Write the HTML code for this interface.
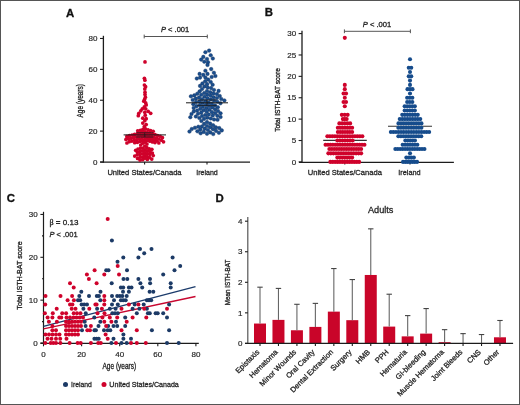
<!DOCTYPE html>
<html><head><meta charset="utf-8"><style>
html,body{margin:0;padding:0;background:#fff;}
svg{display:block;font-family:"Liberation Sans", sans-serif;will-change:transform;}
</style></head><body>
<svg width="520" height="405" viewBox="0 0 520 405">
<rect width="520" height="405" fill="#fff"/>
<text x="66.0" y="16.6" font-size="11.4" text-anchor="start" font-weight="bold" font-style="normal" fill="#111" stroke="#111" stroke-width="0.3">A</text>
<line x1="103.4" y1="35.8" x2="103.4" y2="162.7" stroke="#1c1c1c" stroke-width="1.3"/>
<line x1="100.0" y1="162.0" x2="103.4" y2="162.0" stroke="#1c1c1c" stroke-width="1.1"/>
<text x="97.4" y="164.7" font-size="8.0" text-anchor="end" font-weight="normal" font-style="normal" fill="#262626" stroke="#262626" stroke-width="0.18">0</text>
<line x1="100.0" y1="131.12" x2="103.4" y2="131.12" stroke="#1c1c1c" stroke-width="1.1"/>
<text x="97.4" y="133.82" font-size="8.0" text-anchor="end" font-weight="normal" font-style="normal" fill="#262626" stroke="#262626" stroke-width="0.18">20</text>
<line x1="100.0" y1="100.24" x2="103.4" y2="100.24" stroke="#1c1c1c" stroke-width="1.1"/>
<text x="97.4" y="102.94" font-size="8.0" text-anchor="end" font-weight="normal" font-style="normal" fill="#262626" stroke="#262626" stroke-width="0.18">40</text>
<line x1="100.0" y1="69.36" x2="103.4" y2="69.36" stroke="#1c1c1c" stroke-width="1.1"/>
<text x="97.4" y="72.06" font-size="8.0" text-anchor="end" font-weight="normal" font-style="normal" fill="#262626" stroke="#262626" stroke-width="0.18">60</text>
<line x1="100.0" y1="38.47999999999999" x2="103.4" y2="38.47999999999999" stroke="#1c1c1c" stroke-width="1.1"/>
<text x="97.4" y="41.17999999999999" font-size="8.0" text-anchor="end" font-weight="normal" font-style="normal" fill="#262626" stroke="#262626" stroke-width="0.18">80</text>
<line x1="100.2" y1="162.1" x2="250.0" y2="162.1" stroke="#1c1c1c" stroke-width="1.3"/>
<line x1="144.6" y1="162" x2="144.6" y2="164.6" stroke="#1c1c1c" stroke-width="1.1"/>
<line x1="207.0" y1="162" x2="207.0" y2="164.6" stroke="#1c1c1c" stroke-width="1.1"/>
<text x="144.5" y="175.1" font-size="7.9" text-anchor="middle" font-weight="normal" font-style="normal" fill="#262626" stroke="#262626" stroke-width="0.3" textLength="74.2" lengthAdjust="spacingAndGlyphs">United States/Canada</text>
<text x="207.0" y="175.1" font-size="7.9" text-anchor="middle" font-weight="normal" font-style="normal" fill="#262626" stroke="#262626" stroke-width="0.3" textLength="21.6" lengthAdjust="spacingAndGlyphs">Ireland</text>
<text x="83.0" y="100.8" font-size="9.8" text-anchor="middle" font-weight="normal" font-style="normal" fill="#262626" stroke="#262626" stroke-width="0.35" textLength="33.3" lengthAdjust="spacingAndGlyphs" transform="rotate(-90 83.0 100.8)">Age (years)</text>
<line x1="144.2" y1="36.5" x2="207.3" y2="36.5" stroke="#555" stroke-width="1.0"/>
<line x1="144.2" y1="34.6" x2="144.2" y2="38.4" stroke="#555" stroke-width="1.0"/>
<line x1="207.3" y1="34.6" x2="207.3" y2="38.4" stroke="#555" stroke-width="1.0"/>
<text x="161.0" y="31.7" font-size="7.4" fill="#262626" stroke="#262626" stroke-width="0.3" textLength="28.2" lengthAdjust="spacingAndGlyphs"><tspan font-style="italic">P</tspan> &lt; .001</text>
<text x="264.8" y="16.3" font-size="11.4" text-anchor="start" font-weight="bold" font-style="normal" fill="#111" stroke="#111" stroke-width="0.3">B</text>
<line x1="302.0" y1="30.8" x2="302.0" y2="162.9" stroke="#1c1c1c" stroke-width="1.3"/>
<line x1="298.6" y1="161.9" x2="302.0" y2="161.9" stroke="#1c1c1c" stroke-width="1.1"/>
<text x="296.2" y="164.6" font-size="8.0" text-anchor="end" font-weight="normal" font-style="normal" fill="#262626" stroke="#262626" stroke-width="0.18">0</text>
<line x1="298.6" y1="140.51500000000001" x2="302.0" y2="140.51500000000001" stroke="#1c1c1c" stroke-width="1.1"/>
<text x="296.2" y="143.215" font-size="8.0" text-anchor="end" font-weight="normal" font-style="normal" fill="#262626" stroke="#262626" stroke-width="0.18">5</text>
<line x1="298.6" y1="119.13" x2="302.0" y2="119.13" stroke="#1c1c1c" stroke-width="1.1"/>
<text x="296.2" y="121.83" font-size="8.0" text-anchor="end" font-weight="normal" font-style="normal" fill="#262626" stroke="#262626" stroke-width="0.18">10</text>
<line x1="298.6" y1="97.745" x2="302.0" y2="97.745" stroke="#1c1c1c" stroke-width="1.1"/>
<text x="296.2" y="100.44500000000001" font-size="8.0" text-anchor="end" font-weight="normal" font-style="normal" fill="#262626" stroke="#262626" stroke-width="0.18">15</text>
<line x1="298.6" y1="76.36" x2="302.0" y2="76.36" stroke="#1c1c1c" stroke-width="1.1"/>
<text x="296.2" y="79.06" font-size="8.0" text-anchor="end" font-weight="normal" font-style="normal" fill="#262626" stroke="#262626" stroke-width="0.18">20</text>
<line x1="298.6" y1="54.97500000000001" x2="302.0" y2="54.97500000000001" stroke="#1c1c1c" stroke-width="1.1"/>
<text x="296.2" y="57.67500000000001" font-size="8.0" text-anchor="end" font-weight="normal" font-style="normal" fill="#262626" stroke="#262626" stroke-width="0.18">25</text>
<line x1="298.6" y1="33.59" x2="302.0" y2="33.59" stroke="#1c1c1c" stroke-width="1.1"/>
<text x="296.2" y="36.290000000000006" font-size="8.0" text-anchor="end" font-weight="normal" font-style="normal" fill="#262626" stroke="#262626" stroke-width="0.18">30</text>
<line x1="299.0" y1="162.3" x2="453.9" y2="162.3" stroke="#1c1c1c" stroke-width="1.3"/>
<line x1="344.8" y1="162" x2="344.8" y2="164.6" stroke="#1c1c1c" stroke-width="1.1"/>
<line x1="410.0" y1="162" x2="410.0" y2="164.6" stroke="#1c1c1c" stroke-width="1.1"/>
<text x="344.8" y="175.1" font-size="7.9" text-anchor="middle" font-weight="normal" font-style="normal" fill="#262626" stroke="#262626" stroke-width="0.3" textLength="74.2" lengthAdjust="spacingAndGlyphs">United States/Canada</text>
<text x="409.5" y="175.1" font-size="7.9" text-anchor="middle" font-weight="normal" font-style="normal" fill="#262626" stroke="#262626" stroke-width="0.3" textLength="22.4" lengthAdjust="spacingAndGlyphs">Ireland</text>
<text x="280.2" y="99.9" font-size="7.7" text-anchor="middle" font-weight="normal" font-style="normal" fill="#262626" stroke="#262626" stroke-width="0.35" textLength="63.7" lengthAdjust="spacingAndGlyphs" transform="rotate(-90 280.2 99.9)">Total ISTH-BAT score</text>
<line x1="344.4" y1="31.3" x2="410.4" y2="31.3" stroke="#555" stroke-width="1.0"/>
<line x1="344.4" y1="29.4" x2="344.4" y2="33.2" stroke="#555" stroke-width="1.0"/>
<line x1="410.4" y1="29.4" x2="410.4" y2="33.2" stroke="#555" stroke-width="1.0"/>
<text x="362.8" y="26.5" font-size="7.4" fill="#262626" stroke="#262626" stroke-width="0.3" textLength="28.5" lengthAdjust="spacingAndGlyphs"><tspan font-style="italic">P</tspan> &lt; .001</text>
<line x1="323.2" y1="140.4" x2="366.8" y2="140.4" stroke="#333" stroke-width="1.1"/>
<line x1="388.0" y1="126.3" x2="432.0" y2="126.3" stroke="#333" stroke-width="1.1"/>
<text x="6.8" y="201.7" font-size="11.4" text-anchor="start" font-weight="bold" font-style="normal" fill="#111" stroke="#111" stroke-width="0.3">C</text>
<line x1="43.5" y1="211.8" x2="43.5" y2="344.0" stroke="#1c1c1c" stroke-width="1.2"/>
<line x1="40.4" y1="343.0" x2="43.5" y2="343.0" stroke="#1c1c1c" stroke-width="1.1"/>
<text x="37.6" y="345.9" font-size="8.0" text-anchor="end" font-weight="normal" font-style="normal" fill="#262626" stroke="#262626" stroke-width="0.18">0</text>
<line x1="42.0" y1="321.575" x2="43.5" y2="321.575" stroke="#1c1c1c" stroke-width="1.1"/>
<line x1="40.4" y1="300.15" x2="43.5" y2="300.15" stroke="#1c1c1c" stroke-width="1.1"/>
<text x="37.6" y="303.04999999999995" font-size="8.0" text-anchor="end" font-weight="normal" font-style="normal" fill="#262626" stroke="#262626" stroke-width="0.18">10</text>
<line x1="42.0" y1="278.725" x2="43.5" y2="278.725" stroke="#1c1c1c" stroke-width="1.1"/>
<line x1="40.4" y1="257.3" x2="43.5" y2="257.3" stroke="#1c1c1c" stroke-width="1.1"/>
<text x="37.6" y="260.2" font-size="8.0" text-anchor="end" font-weight="normal" font-style="normal" fill="#262626" stroke="#262626" stroke-width="0.18">20</text>
<line x1="42.0" y1="235.875" x2="43.5" y2="235.875" stroke="#1c1c1c" stroke-width="1.1"/>
<line x1="40.4" y1="214.45" x2="43.5" y2="214.45" stroke="#1c1c1c" stroke-width="1.1"/>
<text x="37.6" y="217.35" font-size="8.0" text-anchor="end" font-weight="normal" font-style="normal" fill="#262626" stroke="#262626" stroke-width="0.18">30</text>
<line x1="40.4" y1="343.4" x2="198.8" y2="343.4" stroke="#1c1c1c" stroke-width="1.3"/>
<line x1="43.5" y1="343.4" x2="43.5" y2="346.3" stroke="#1c1c1c" stroke-width="1.1"/>
<text x="43.5" y="357.0" font-size="8.0" text-anchor="middle" font-weight="normal" font-style="normal" fill="#262626" stroke="#262626" stroke-width="0.18">0</text>
<line x1="81.6" y1="343.4" x2="81.6" y2="346.3" stroke="#1c1c1c" stroke-width="1.1"/>
<text x="81.6" y="357.0" font-size="8.0" text-anchor="middle" font-weight="normal" font-style="normal" fill="#262626" stroke="#262626" stroke-width="0.18">20</text>
<line x1="119.7" y1="343.4" x2="119.7" y2="346.3" stroke="#1c1c1c" stroke-width="1.1"/>
<text x="119.7" y="357.0" font-size="8.0" text-anchor="middle" font-weight="normal" font-style="normal" fill="#262626" stroke="#262626" stroke-width="0.18">40</text>
<line x1="157.8" y1="343.4" x2="157.8" y2="346.3" stroke="#1c1c1c" stroke-width="1.1"/>
<text x="157.8" y="357.0" font-size="8.0" text-anchor="middle" font-weight="normal" font-style="normal" fill="#262626" stroke="#262626" stroke-width="0.18">60</text>
<line x1="195.9" y1="343.4" x2="195.9" y2="346.3" stroke="#1c1c1c" stroke-width="1.1"/>
<text x="195.9" y="357.0" font-size="8.0" text-anchor="middle" font-weight="normal" font-style="normal" fill="#262626" stroke="#262626" stroke-width="0.18">80</text>
<text x="119.3" y="369.0" font-size="8.4" text-anchor="middle" font-weight="normal" font-style="normal" fill="#262626" stroke="#262626" stroke-width="0.35" textLength="33.5" lengthAdjust="spacingAndGlyphs">Age (years)</text>
<text x="21.6" y="275.5" font-size="7.9" text-anchor="middle" font-weight="normal" font-style="normal" fill="#262626" stroke="#262626" stroke-width="0.35" textLength="68.3" lengthAdjust="spacingAndGlyphs" transform="rotate(-90 21.6 275.5)">Total ISTH-BAT score</text>
<text x="49.4" y="225.0" font-size="7.9" fill="#262626" stroke="#262626" stroke-width="0.3" textLength="29" lengthAdjust="spacingAndGlyphs"><tspan font-family="Liberation Serif">β</tspan> = 0.13</text>
<text x="49.4" y="236.9" font-size="7.9" fill="#262626" stroke="#262626" stroke-width="0.3" textLength="28.2" lengthAdjust="spacingAndGlyphs"><tspan font-style="italic">P</tspan> &lt; .001</text>
<line x1="43.5" y1="326.4" x2="195.5" y2="286.7" stroke="#1B3B6B" stroke-width="1.3"/>
<line x1="43.5" y1="328.8" x2="195.5" y2="296.5" stroke="#C8062F" stroke-width="1.3"/>
<circle cx="111.90" cy="240.38" r="2.0" fill="#1C3A66"/>
<circle cx="140.00" cy="248.94" r="2.0" fill="#1C3A66"/>
<circle cx="151.50" cy="248.94" r="2.0" fill="#1C3A66"/>
<circle cx="144.20" cy="253.22" r="2.0" fill="#1C3A66"/>
<circle cx="123.30" cy="257.50" r="2.0" fill="#1C3A66"/>
<circle cx="138.40" cy="257.50" r="2.0" fill="#1C3A66"/>
<circle cx="172.60" cy="257.50" r="2.0" fill="#1C3A66"/>
<circle cx="117.50" cy="261.78" r="2.0" fill="#1C3A66"/>
<circle cx="180.20" cy="266.06" r="2.0" fill="#1C3A66"/>
<circle cx="106.20" cy="270.34" r="2.0" fill="#1C3A66"/>
<circle cx="108.50" cy="270.34" r="2.0" fill="#1C3A66"/>
<circle cx="127.00" cy="270.34" r="2.0" fill="#1C3A66"/>
<circle cx="174.50" cy="270.34" r="2.0" fill="#1C3A66"/>
<circle cx="163.20" cy="274.62" r="2.0" fill="#1C3A66"/>
<circle cx="123.50" cy="278.90" r="2.0" fill="#1C3A66"/>
<circle cx="127.30" cy="278.90" r="2.0" fill="#1C3A66"/>
<circle cx="138.40" cy="278.90" r="2.0" fill="#1C3A66"/>
<circle cx="150.00" cy="278.90" r="2.0" fill="#1C3A66"/>
<circle cx="111.70" cy="283.18" r="2.0" fill="#1C3A66"/>
<circle cx="140.40" cy="283.18" r="2.0" fill="#1C3A66"/>
<circle cx="150.10" cy="283.18" r="2.0" fill="#1C3A66"/>
<circle cx="170.70" cy="283.18" r="2.0" fill="#1C3A66"/>
<circle cx="120.90" cy="287.46" r="2.0" fill="#1C3A66"/>
<circle cx="123.20" cy="287.46" r="2.0" fill="#1C3A66"/>
<circle cx="128.90" cy="287.46" r="2.0" fill="#1C3A66"/>
<circle cx="131.50" cy="287.46" r="2.0" fill="#1C3A66"/>
<circle cx="142.20" cy="287.46" r="2.0" fill="#1C3A66"/>
<circle cx="170.70" cy="287.46" r="2.0" fill="#1C3A66"/>
<circle cx="81.30" cy="291.74" r="2.0" fill="#1C3A66"/>
<circle cx="100.50" cy="291.74" r="2.0" fill="#1C3A66"/>
<circle cx="123.00" cy="291.74" r="2.0" fill="#1C3A66"/>
<circle cx="128.90" cy="291.74" r="2.0" fill="#1C3A66"/>
<circle cx="149.60" cy="291.74" r="2.0" fill="#1C3A66"/>
<circle cx="153.30" cy="291.74" r="2.0" fill="#1C3A66"/>
<circle cx="79.30" cy="296.02" r="2.0" fill="#1C3A66"/>
<circle cx="89.00" cy="296.02" r="2.0" fill="#1C3A66"/>
<circle cx="96.80" cy="296.02" r="2.0" fill="#1C3A66"/>
<circle cx="98.90" cy="296.02" r="2.0" fill="#1C3A66"/>
<circle cx="112.00" cy="296.02" r="2.0" fill="#1C3A66"/>
<circle cx="117.20" cy="296.02" r="2.0" fill="#1C3A66"/>
<circle cx="119.90" cy="296.02" r="2.0" fill="#1C3A66"/>
<circle cx="122.40" cy="296.02" r="2.0" fill="#1C3A66"/>
<circle cx="126.70" cy="296.02" r="2.0" fill="#1C3A66"/>
<circle cx="78.00" cy="300.30" r="2.0" fill="#1C3A66"/>
<circle cx="80.20" cy="300.30" r="2.0" fill="#1C3A66"/>
<circle cx="100.30" cy="300.30" r="2.0" fill="#1C3A66"/>
<circle cx="114.00" cy="300.30" r="2.0" fill="#1C3A66"/>
<circle cx="120.90" cy="300.30" r="2.0" fill="#1C3A66"/>
<circle cx="123.20" cy="300.30" r="2.0" fill="#1C3A66"/>
<circle cx="125.70" cy="300.30" r="2.0" fill="#1C3A66"/>
<circle cx="146.90" cy="300.30" r="2.0" fill="#1C3A66"/>
<circle cx="149.00" cy="300.30" r="2.0" fill="#1C3A66"/>
<circle cx="151.20" cy="300.30" r="2.0" fill="#1C3A66"/>
<circle cx="81.60" cy="304.58" r="2.0" fill="#1C3A66"/>
<circle cx="84.20" cy="304.58" r="2.0" fill="#1C3A66"/>
<circle cx="87.00" cy="304.58" r="2.0" fill="#1C3A66"/>
<circle cx="112.00" cy="304.58" r="2.0" fill="#1C3A66"/>
<circle cx="117.80" cy="304.58" r="2.0" fill="#1C3A66"/>
<circle cx="134.70" cy="304.58" r="2.0" fill="#1C3A66"/>
<circle cx="143.70" cy="304.58" r="2.0" fill="#1C3A66"/>
<circle cx="169.10" cy="304.58" r="2.0" fill="#1C3A66"/>
<circle cx="83.40" cy="308.86" r="2.0" fill="#1C3A66"/>
<circle cx="97.10" cy="308.86" r="2.0" fill="#1C3A66"/>
<circle cx="109.80" cy="308.86" r="2.0" fill="#1C3A66"/>
<circle cx="115.60" cy="308.86" r="2.0" fill="#1C3A66"/>
<circle cx="132.60" cy="308.86" r="2.0" fill="#1C3A66"/>
<circle cx="139.40" cy="308.86" r="2.0" fill="#1C3A66"/>
<circle cx="146.90" cy="308.86" r="2.0" fill="#1C3A66"/>
<circle cx="85.70" cy="313.14" r="2.0" fill="#1C3A66"/>
<circle cx="112.30" cy="313.14" r="2.0" fill="#1C3A66"/>
<circle cx="115.00" cy="313.14" r="2.0" fill="#1C3A66"/>
<circle cx="117.80" cy="313.14" r="2.0" fill="#1C3A66"/>
<circle cx="136.80" cy="313.14" r="2.0" fill="#1C3A66"/>
<circle cx="147.90" cy="313.14" r="2.0" fill="#1C3A66"/>
<circle cx="149.80" cy="313.14" r="2.0" fill="#1C3A66"/>
<circle cx="155.60" cy="313.14" r="2.0" fill="#1C3A66"/>
<circle cx="157.70" cy="313.14" r="2.0" fill="#1C3A66"/>
<circle cx="163.20" cy="313.14" r="2.0" fill="#1C3A66"/>
<circle cx="94.30" cy="317.42" r="2.0" fill="#1C3A66"/>
<circle cx="125.20" cy="317.42" r="2.0" fill="#1C3A66"/>
<circle cx="167.00" cy="317.42" r="2.0" fill="#1C3A66"/>
<circle cx="84.70" cy="321.70" r="2.0" fill="#1C3A66"/>
<circle cx="100.30" cy="321.70" r="2.0" fill="#1C3A66"/>
<circle cx="116.00" cy="321.70" r="2.0" fill="#1C3A66"/>
<circle cx="85.60" cy="325.98" r="2.0" fill="#1C3A66"/>
<circle cx="98.50" cy="325.98" r="2.0" fill="#1C3A66"/>
<circle cx="108.20" cy="325.98" r="2.0" fill="#1C3A66"/>
<circle cx="113.50" cy="325.98" r="2.0" fill="#1C3A66"/>
<circle cx="117.20" cy="325.98" r="2.0" fill="#1C3A66"/>
<circle cx="125.20" cy="325.98" r="2.0" fill="#1C3A66"/>
<circle cx="82.00" cy="330.26" r="2.0" fill="#1C3A66"/>
<circle cx="94.40" cy="330.26" r="2.0" fill="#1C3A66"/>
<circle cx="95.90" cy="330.26" r="2.0" fill="#1C3A66"/>
<circle cx="104.00" cy="330.26" r="2.0" fill="#1C3A66"/>
<circle cx="107.70" cy="330.26" r="2.0" fill="#1C3A66"/>
<circle cx="110.30" cy="330.26" r="2.0" fill="#1C3A66"/>
<circle cx="151.90" cy="330.26" r="2.0" fill="#1C3A66"/>
<circle cx="169.10" cy="330.26" r="2.0" fill="#1C3A66"/>
<circle cx="123.40" cy="334.54" r="2.0" fill="#1C3A66"/>
<circle cx="94.40" cy="338.82" r="2.0" fill="#1C3A66"/>
<circle cx="96.60" cy="338.82" r="2.0" fill="#1C3A66"/>
<circle cx="98.70" cy="338.82" r="2.0" fill="#1C3A66"/>
<circle cx="113.50" cy="338.82" r="2.0" fill="#1C3A66"/>
<circle cx="123.40" cy="338.82" r="2.0" fill="#1C3A66"/>
<circle cx="131.00" cy="338.82" r="2.0" fill="#1C3A66"/>
<circle cx="111.40" cy="343.10" r="2.0" fill="#1C3A66"/>
<circle cx="121.50" cy="343.10" r="2.0" fill="#1C3A66"/>
<circle cx="126.70" cy="343.10" r="2.0" fill="#1C3A66"/>
<circle cx="167.00" cy="343.10" r="2.0" fill="#1C3A66"/>
<circle cx="178.70" cy="343.10" r="2.0" fill="#1C3A66"/>
<circle cx="107.70" cy="218.98" r="2.0" fill="#CF022B"/>
<circle cx="117.70" cy="266.06" r="2.0" fill="#CF022B"/>
<circle cx="94.60" cy="270.34" r="2.0" fill="#CF022B"/>
<circle cx="86.90" cy="274.62" r="2.0" fill="#CF022B"/>
<circle cx="104.30" cy="274.62" r="2.0" fill="#CF022B"/>
<circle cx="119.00" cy="274.62" r="2.0" fill="#CF022B"/>
<circle cx="88.90" cy="278.90" r="2.0" fill="#CF022B"/>
<circle cx="70.00" cy="283.18" r="2.0" fill="#CF022B"/>
<circle cx="96.60" cy="283.18" r="2.0" fill="#CF022B"/>
<circle cx="73.70" cy="287.46" r="2.0" fill="#CF022B"/>
<circle cx="45.50" cy="296.02" r="2.0" fill="#CF022B"/>
<circle cx="60.50" cy="296.02" r="2.0" fill="#CF022B"/>
<circle cx="72.10" cy="296.02" r="2.0" fill="#CF022B"/>
<circle cx="104.30" cy="296.02" r="2.0" fill="#CF022B"/>
<circle cx="67.60" cy="300.30" r="2.0" fill="#CF022B"/>
<circle cx="73.90" cy="300.30" r="2.0" fill="#CF022B"/>
<circle cx="104.30" cy="300.30" r="2.0" fill="#CF022B"/>
<circle cx="45.20" cy="304.58" r="2.0" fill="#CF022B"/>
<circle cx="70.00" cy="304.58" r="2.0" fill="#CF022B"/>
<circle cx="72.40" cy="304.58" r="2.0" fill="#CF022B"/>
<circle cx="95.40" cy="304.58" r="2.0" fill="#CF022B"/>
<circle cx="96.60" cy="304.58" r="2.0" fill="#CF022B"/>
<circle cx="104.30" cy="304.58" r="2.0" fill="#CF022B"/>
<circle cx="128.90" cy="304.58" r="2.0" fill="#CF022B"/>
<circle cx="138.40" cy="304.58" r="2.0" fill="#CF022B"/>
<circle cx="56.70" cy="308.86" r="2.0" fill="#CF022B"/>
<circle cx="71.70" cy="308.86" r="2.0" fill="#CF022B"/>
<circle cx="75.50" cy="308.86" r="2.0" fill="#CF022B"/>
<circle cx="89.30" cy="308.86" r="2.0" fill="#CF022B"/>
<circle cx="101.90" cy="308.86" r="2.0" fill="#CF022B"/>
<circle cx="121.50" cy="308.86" r="2.0" fill="#CF022B"/>
<circle cx="144.20" cy="308.86" r="2.0" fill="#CF022B"/>
<circle cx="167.00" cy="308.86" r="2.0" fill="#CF022B"/>
<circle cx="44.90" cy="313.14" r="2.0" fill="#CF022B"/>
<circle cx="52.80" cy="313.14" r="2.0" fill="#CF022B"/>
<circle cx="62.20" cy="313.14" r="2.0" fill="#CF022B"/>
<circle cx="66.10" cy="313.14" r="2.0" fill="#CF022B"/>
<circle cx="73.70" cy="313.14" r="2.0" fill="#CF022B"/>
<circle cx="77.00" cy="313.14" r="2.0" fill="#CF022B"/>
<circle cx="80.50" cy="313.14" r="2.0" fill="#CF022B"/>
<circle cx="97.50" cy="313.14" r="2.0" fill="#CF022B"/>
<circle cx="104.50" cy="313.14" r="2.0" fill="#CF022B"/>
<circle cx="47.60" cy="317.42" r="2.0" fill="#CF022B"/>
<circle cx="52.40" cy="317.42" r="2.0" fill="#CF022B"/>
<circle cx="59.30" cy="317.42" r="2.0" fill="#CF022B"/>
<circle cx="61.30" cy="317.42" r="2.0" fill="#CF022B"/>
<circle cx="66.50" cy="317.42" r="2.0" fill="#CF022B"/>
<circle cx="70.00" cy="317.42" r="2.0" fill="#CF022B"/>
<circle cx="73.50" cy="317.42" r="2.0" fill="#CF022B"/>
<circle cx="76.50" cy="317.42" r="2.0" fill="#CF022B"/>
<circle cx="79.70" cy="317.42" r="2.0" fill="#CF022B"/>
<circle cx="83.00" cy="317.42" r="2.0" fill="#CF022B"/>
<circle cx="102.40" cy="317.42" r="2.0" fill="#CF022B"/>
<circle cx="109.80" cy="317.42" r="2.0" fill="#CF022B"/>
<circle cx="117.20" cy="317.42" r="2.0" fill="#CF022B"/>
<circle cx="132.60" cy="317.42" r="2.0" fill="#CF022B"/>
<circle cx="146.30" cy="317.42" r="2.0" fill="#CF022B"/>
<circle cx="48.90" cy="321.70" r="2.0" fill="#CF022B"/>
<circle cx="56.90" cy="321.70" r="2.0" fill="#CF022B"/>
<circle cx="66.00" cy="321.70" r="2.0" fill="#CF022B"/>
<circle cx="69.00" cy="321.70" r="2.0" fill="#CF022B"/>
<circle cx="72.00" cy="321.70" r="2.0" fill="#CF022B"/>
<circle cx="75.00" cy="321.70" r="2.0" fill="#CF022B"/>
<circle cx="78.00" cy="321.70" r="2.0" fill="#CF022B"/>
<circle cx="81.00" cy="321.70" r="2.0" fill="#CF022B"/>
<circle cx="104.30" cy="321.70" r="2.0" fill="#CF022B"/>
<circle cx="111.40" cy="321.70" r="2.0" fill="#CF022B"/>
<circle cx="126.70" cy="321.70" r="2.0" fill="#CF022B"/>
<circle cx="52.40" cy="325.98" r="2.0" fill="#CF022B"/>
<circle cx="66.00" cy="325.98" r="2.0" fill="#CF022B"/>
<circle cx="69.00" cy="325.98" r="2.0" fill="#CF022B"/>
<circle cx="72.00" cy="325.98" r="2.0" fill="#CF022B"/>
<circle cx="75.00" cy="325.98" r="2.0" fill="#CF022B"/>
<circle cx="78.00" cy="325.98" r="2.0" fill="#CF022B"/>
<circle cx="81.00" cy="325.98" r="2.0" fill="#CF022B"/>
<circle cx="90.90" cy="325.98" r="2.0" fill="#CF022B"/>
<circle cx="106.10" cy="325.98" r="2.0" fill="#CF022B"/>
<circle cx="52.40" cy="330.26" r="2.0" fill="#CF022B"/>
<circle cx="56.00" cy="330.26" r="2.0" fill="#CF022B"/>
<circle cx="66.00" cy="330.26" r="2.0" fill="#CF022B"/>
<circle cx="69.00" cy="330.26" r="2.0" fill="#CF022B"/>
<circle cx="72.00" cy="330.26" r="2.0" fill="#CF022B"/>
<circle cx="75.00" cy="330.26" r="2.0" fill="#CF022B"/>
<circle cx="78.00" cy="330.26" r="2.0" fill="#CF022B"/>
<circle cx="87.30" cy="330.26" r="2.0" fill="#CF022B"/>
<circle cx="90.00" cy="330.26" r="2.0" fill="#CF022B"/>
<circle cx="121.50" cy="330.26" r="2.0" fill="#CF022B"/>
<circle cx="136.80" cy="330.26" r="2.0" fill="#CF022B"/>
<circle cx="45.50" cy="334.54" r="2.0" fill="#CF022B"/>
<circle cx="49.00" cy="334.54" r="2.0" fill="#CF022B"/>
<circle cx="52.50" cy="334.54" r="2.0" fill="#CF022B"/>
<circle cx="56.00" cy="334.54" r="2.0" fill="#CF022B"/>
<circle cx="59.50" cy="334.54" r="2.0" fill="#CF022B"/>
<circle cx="66.00" cy="334.54" r="2.0" fill="#CF022B"/>
<circle cx="69.00" cy="334.54" r="2.0" fill="#CF022B"/>
<circle cx="72.00" cy="334.54" r="2.0" fill="#CF022B"/>
<circle cx="75.00" cy="334.54" r="2.0" fill="#CF022B"/>
<circle cx="78.00" cy="334.54" r="2.0" fill="#CF022B"/>
<circle cx="105.60" cy="334.54" r="2.0" fill="#CF022B"/>
<circle cx="47.50" cy="338.82" r="2.0" fill="#CF022B"/>
<circle cx="51.50" cy="338.82" r="2.0" fill="#CF022B"/>
<circle cx="56.00" cy="338.82" r="2.0" fill="#CF022B"/>
<circle cx="60.20" cy="338.82" r="2.0" fill="#CF022B"/>
<circle cx="66.50" cy="338.82" r="2.0" fill="#CF022B"/>
<circle cx="107.70" cy="338.82" r="2.0" fill="#CF022B"/>
<circle cx="45.30" cy="343.10" r="2.0" fill="#CF022B"/>
<circle cx="50.70" cy="343.10" r="2.0" fill="#CF022B"/>
<circle cx="53.30" cy="343.10" r="2.0" fill="#CF022B"/>
<circle cx="56.00" cy="343.10" r="2.0" fill="#CF022B"/>
<circle cx="60.40" cy="343.10" r="2.0" fill="#CF022B"/>
<circle cx="69.60" cy="343.10" r="2.0" fill="#CF022B"/>
<circle cx="77.60" cy="343.10" r="2.0" fill="#CF022B"/>
<circle cx="80.70" cy="343.10" r="2.0" fill="#CF022B"/>
<circle cx="90.90" cy="343.10" r="2.0" fill="#CF022B"/>
<circle cx="98.20" cy="343.10" r="2.0" fill="#CF022B"/>
<circle cx="100.80" cy="343.10" r="2.0" fill="#CF022B"/>
<circle cx="116.00" cy="343.10" r="2.0" fill="#CF022B"/>
<circle cx="131.00" cy="343.10" r="2.0" fill="#CF022B"/>
<circle cx="136.80" cy="343.10" r="2.0" fill="#CF022B"/>
<circle cx="145.80" cy="343.10" r="2.0" fill="#CF022B"/>
<circle cx="65.50" cy="384.40" r="2.5" fill="#1C3A66"/>
<text x="71.0" y="387.2" font-size="7.9" text-anchor="start" font-weight="normal" font-style="normal" fill="#262626" stroke="#262626" stroke-width="0.3" textLength="20.8" lengthAdjust="spacingAndGlyphs">Ireland</text>
<circle cx="104.00" cy="384.40" r="2.5" fill="#CF022B"/>
<text x="109.3" y="387.2" font-size="7.9" text-anchor="start" font-weight="normal" font-style="normal" fill="#262626" stroke="#262626" stroke-width="0.3" textLength="69.5" lengthAdjust="spacingAndGlyphs">United States/Canada</text>
<text x="215.6" y="201.7" font-size="11.4" text-anchor="start" font-weight="bold" font-style="normal" fill="#111" stroke="#111" stroke-width="0.3">D</text>
<text x="380.7" y="213.0" font-size="9.6" text-anchor="middle" font-weight="normal" font-style="normal" fill="#262626" stroke="#262626" stroke-width="0.3" textLength="25.5" lengthAdjust="spacingAndGlyphs">Adults</text>
<line x1="247.8" y1="217.0" x2="247.8" y2="343.5" stroke="#555" stroke-width="1.2"/>
<line x1="245.0" y1="343.4" x2="247.8" y2="343.4" stroke="#1c1c1c" stroke-width="1.1"/>
<text x="242.4" y="346.09999999999997" font-size="8.0" text-anchor="end" font-weight="normal" font-style="normal" fill="#262626" stroke="#262626" stroke-width="0.18">0</text>
<line x1="245.0" y1="312.84999999999997" x2="247.8" y2="312.84999999999997" stroke="#1c1c1c" stroke-width="1.1"/>
<text x="242.4" y="315.54999999999995" font-size="8.0" text-anchor="end" font-weight="normal" font-style="normal" fill="#262626" stroke="#262626" stroke-width="0.18">1</text>
<line x1="245.0" y1="282.29999999999995" x2="247.8" y2="282.29999999999995" stroke="#1c1c1c" stroke-width="1.1"/>
<text x="242.4" y="284.99999999999994" font-size="8.0" text-anchor="end" font-weight="normal" font-style="normal" fill="#262626" stroke="#262626" stroke-width="0.18">2</text>
<line x1="245.0" y1="251.74999999999997" x2="247.8" y2="251.74999999999997" stroke="#1c1c1c" stroke-width="1.1"/>
<text x="242.4" y="254.44999999999996" font-size="8.0" text-anchor="end" font-weight="normal" font-style="normal" fill="#262626" stroke="#262626" stroke-width="0.18">3</text>
<line x1="245.0" y1="221.2" x2="247.8" y2="221.2" stroke="#1c1c1c" stroke-width="1.1"/>
<text x="242.4" y="223.89999999999998" font-size="8.0" text-anchor="end" font-weight="normal" font-style="normal" fill="#262626" stroke="#262626" stroke-width="0.18">4</text>
<text x="229.7" y="282.4" font-size="7.9" text-anchor="middle" font-weight="normal" font-style="normal" fill="#262626" stroke="#262626" stroke-width="0.35" textLength="45.5" lengthAdjust="spacingAndGlyphs" transform="rotate(-90 229.7 282.4)">Mean ISTH-BAT</text>
<rect x="254.00" y="323.54" width="12.00" height="19.86" fill="#C90529"/>
<line x1="260.0" y1="287.188" x2="260.0" y2="323.54249999999996" stroke="#666" stroke-width="1.1"/>
<line x1="257.3" y1="287.188" x2="262.7" y2="287.188" stroke="#444" stroke-width="1.1"/>
<line x1="260.0" y1="343.4" x2="260.0" y2="346.0" stroke="#1c1c1c" stroke-width="1.1"/>
<text x="259.8" y="352.6" font-size="7.5" text-anchor="end" font-weight="normal" font-style="normal" fill="#262626" stroke="#262626" stroke-width="0.3" transform="rotate(-45 259.8 352.6)">Epistaxis</text>
<rect x="272.46" y="319.88" width="12.00" height="23.52" fill="#C90529"/>
<line x1="278.46" y1="288.40999999999997" x2="278.46" y2="319.87649999999996" stroke="#666" stroke-width="1.1"/>
<line x1="275.76" y1="288.40999999999997" x2="281.15999999999997" y2="288.40999999999997" stroke="#444" stroke-width="1.1"/>
<line x1="278.46" y1="343.4" x2="278.46" y2="346.0" stroke="#1c1c1c" stroke-width="1.1"/>
<text x="278.26" y="352.6" font-size="7.5" text-anchor="end" font-weight="normal" font-style="normal" fill="#262626" stroke="#262626" stroke-width="0.3" transform="rotate(-45 278.26 352.6)">Hematoma</text>
<rect x="290.92" y="330.26" width="12.00" height="13.14" fill="#C90529"/>
<line x1="296.92" y1="304.296" x2="296.92" y2="330.26349999999996" stroke="#666" stroke-width="1.1"/>
<line x1="294.22" y1="304.296" x2="299.62" y2="304.296" stroke="#444" stroke-width="1.1"/>
<line x1="296.92" y1="343.4" x2="296.92" y2="346.0" stroke="#1c1c1c" stroke-width="1.1"/>
<text x="296.72" y="352.6" font-size="7.5" text-anchor="end" font-weight="normal" font-style="normal" fill="#262626" stroke="#262626" stroke-width="0.3" transform="rotate(-45 296.72 352.6)">Minor Wounds</text>
<rect x="309.38" y="326.90" width="12.00" height="16.50" fill="#C90529"/>
<line x1="315.38" y1="303.37949999999995" x2="315.38" y2="326.90299999999996" stroke="#666" stroke-width="1.1"/>
<line x1="312.68" y1="303.37949999999995" x2="318.08" y2="303.37949999999995" stroke="#444" stroke-width="1.1"/>
<line x1="315.38" y1="343.4" x2="315.38" y2="346.0" stroke="#1c1c1c" stroke-width="1.1"/>
<text x="315.18" y="352.6" font-size="7.5" text-anchor="end" font-weight="normal" font-style="normal" fill="#262626" stroke="#262626" stroke-width="0.3" transform="rotate(-45 315.18 352.6)">Oral Cavity</text>
<rect x="327.84" y="311.63" width="12.00" height="31.77" fill="#C90529"/>
<line x1="333.84000000000003" y1="268.55249999999995" x2="333.84000000000003" y2="311.628" stroke="#666" stroke-width="1.1"/>
<line x1="331.14000000000004" y1="268.55249999999995" x2="336.54" y2="268.55249999999995" stroke="#444" stroke-width="1.1"/>
<line x1="333.84000000000003" y1="343.4" x2="333.84000000000003" y2="346.0" stroke="#1c1c1c" stroke-width="1.1"/>
<text x="333.64000000000004" y="352.6" font-size="7.5" text-anchor="end" font-weight="normal" font-style="normal" fill="#262626" stroke="#262626" stroke-width="0.3" transform="rotate(-45 333.64000000000004 352.6)">Dental Extraction</text>
<rect x="346.30" y="320.18" width="12.00" height="23.22" fill="#C90529"/>
<line x1="352.3" y1="279.5505" x2="352.3" y2="320.18199999999996" stroke="#666" stroke-width="1.1"/>
<line x1="349.6" y1="279.5505" x2="355.0" y2="279.5505" stroke="#444" stroke-width="1.1"/>
<line x1="352.3" y1="343.4" x2="352.3" y2="346.0" stroke="#1c1c1c" stroke-width="1.1"/>
<text x="352.1" y="352.6" font-size="7.5" text-anchor="end" font-weight="normal" font-style="normal" fill="#262626" stroke="#262626" stroke-width="0.3" transform="rotate(-45 352.1 352.6)">Surgery</text>
<rect x="364.76" y="274.97" width="12.00" height="68.43" fill="#C90529"/>
<line x1="370.76" y1="228.83749999999998" x2="370.76" y2="274.96799999999996" stroke="#666" stroke-width="1.1"/>
<line x1="368.06" y1="228.83749999999998" x2="373.46" y2="228.83749999999998" stroke="#444" stroke-width="1.1"/>
<line x1="370.76" y1="343.4" x2="370.76" y2="346.0" stroke="#1c1c1c" stroke-width="1.1"/>
<text x="370.56" y="352.6" font-size="7.5" text-anchor="end" font-weight="normal" font-style="normal" fill="#262626" stroke="#262626" stroke-width="0.3" transform="rotate(-45 370.56 352.6)">HMB</text>
<rect x="383.22" y="326.60" width="12.00" height="16.80" fill="#C90529"/>
<line x1="389.22" y1="294.2145" x2="389.22" y2="326.59749999999997" stroke="#666" stroke-width="1.1"/>
<line x1="386.52000000000004" y1="294.2145" x2="391.92" y2="294.2145" stroke="#444" stroke-width="1.1"/>
<line x1="389.22" y1="343.4" x2="389.22" y2="346.0" stroke="#1c1c1c" stroke-width="1.1"/>
<text x="389.02000000000004" y="352.6" font-size="7.5" text-anchor="end" font-weight="normal" font-style="normal" fill="#262626" stroke="#262626" stroke-width="0.3" transform="rotate(-45 389.02000000000004 352.6)">PPH</text>
<rect x="401.68" y="336.37" width="12.00" height="7.03" fill="#C90529"/>
<line x1="407.68" y1="315.5995" x2="407.68" y2="336.3735" stroke="#666" stroke-width="1.1"/>
<line x1="404.98" y1="315.5995" x2="410.38" y2="315.5995" stroke="#444" stroke-width="1.1"/>
<line x1="407.68" y1="343.4" x2="407.68" y2="346.0" stroke="#1c1c1c" stroke-width="1.1"/>
<text x="407.48" y="352.6" font-size="7.5" text-anchor="end" font-weight="normal" font-style="normal" fill="#262626" stroke="#262626" stroke-width="0.3" transform="rotate(-45 407.48 352.6)">Hematuria</text>
<rect x="420.14" y="333.62" width="12.00" height="9.78" fill="#C90529"/>
<line x1="426.14" y1="308.573" x2="426.14" y2="333.62399999999997" stroke="#666" stroke-width="1.1"/>
<line x1="423.44" y1="308.573" x2="428.84" y2="308.573" stroke="#444" stroke-width="1.1"/>
<line x1="426.14" y1="343.4" x2="426.14" y2="346.0" stroke="#1c1c1c" stroke-width="1.1"/>
<text x="425.94" y="352.6" font-size="7.5" text-anchor="end" font-weight="normal" font-style="normal" fill="#262626" stroke="#262626" stroke-width="0.3" transform="rotate(-45 425.94 352.6)">GI-bleeding</text>
<rect x="438.60" y="342.18" width="12.00" height="1.22" fill="#C90529"/>
<line x1="444.6" y1="329.6525" x2="444.6" y2="342.178" stroke="#666" stroke-width="1.1"/>
<line x1="441.90000000000003" y1="329.6525" x2="447.3" y2="329.6525" stroke="#444" stroke-width="1.1"/>
<line x1="444.6" y1="343.4" x2="444.6" y2="346.0" stroke="#1c1c1c" stroke-width="1.1"/>
<text x="444.40000000000003" y="352.6" font-size="7.5" text-anchor="end" font-weight="normal" font-style="normal" fill="#262626" stroke="#262626" stroke-width="0.3" transform="rotate(-45 444.40000000000003 352.6)">Muscle Hematoma</text>
<line x1="463.06" y1="333.62399999999997" x2="463.06" y2="343.4" stroke="#666" stroke-width="1.1"/>
<line x1="460.36" y1="333.62399999999997" x2="465.76" y2="333.62399999999997" stroke="#444" stroke-width="1.1"/>
<line x1="463.06" y1="343.4" x2="463.06" y2="346.0" stroke="#1c1c1c" stroke-width="1.1"/>
<text x="462.86" y="352.6" font-size="7.5" text-anchor="end" font-weight="normal" font-style="normal" fill="#262626" stroke="#262626" stroke-width="0.3" transform="rotate(-45 462.86 352.6)">Joint Bleeds</text>
<line x1="481.52" y1="334.54049999999995" x2="481.52" y2="343.4" stroke="#666" stroke-width="1.1"/>
<line x1="478.82" y1="334.54049999999995" x2="484.21999999999997" y2="334.54049999999995" stroke="#444" stroke-width="1.1"/>
<line x1="481.52" y1="343.4" x2="481.52" y2="346.0" stroke="#1c1c1c" stroke-width="1.1"/>
<text x="481.32" y="352.6" font-size="7.5" text-anchor="end" font-weight="normal" font-style="normal" fill="#262626" stroke="#262626" stroke-width="0.3" transform="rotate(-45 481.32 352.6)">CNS</text>
<rect x="493.98" y="337.29" width="12.00" height="6.11" fill="#C90529"/>
<line x1="499.98" y1="320.48749999999995" x2="499.98" y2="337.28999999999996" stroke="#666" stroke-width="1.1"/>
<line x1="497.28000000000003" y1="320.48749999999995" x2="502.68" y2="320.48749999999995" stroke="#444" stroke-width="1.1"/>
<line x1="499.98" y1="343.4" x2="499.98" y2="346.0" stroke="#1c1c1c" stroke-width="1.1"/>
<text x="499.78000000000003" y="352.6" font-size="7.5" text-anchor="end" font-weight="normal" font-style="normal" fill="#262626" stroke="#262626" stroke-width="0.3" transform="rotate(-45 499.78000000000003 352.6)">Other</text>
<line x1="245.0" y1="343.4" x2="513.1" y2="343.4" stroke="#1c1c1c" stroke-width="1.2"/>
<circle cx="330.35" cy="161.90" r="2.05" fill="#CF022B"/>
<circle cx="332.75" cy="161.90" r="2.05" fill="#CF022B"/>
<circle cx="335.15" cy="161.90" r="2.05" fill="#CF022B"/>
<circle cx="337.55" cy="161.90" r="2.05" fill="#CF022B"/>
<circle cx="339.95" cy="161.90" r="2.05" fill="#CF022B"/>
<circle cx="342.35" cy="161.90" r="2.05" fill="#CF022B"/>
<circle cx="344.75" cy="161.90" r="2.05" fill="#CF022B"/>
<circle cx="347.15" cy="161.90" r="2.05" fill="#CF022B"/>
<circle cx="349.55" cy="161.90" r="2.05" fill="#CF022B"/>
<circle cx="351.95" cy="161.90" r="2.05" fill="#CF022B"/>
<circle cx="354.35" cy="161.90" r="2.05" fill="#CF022B"/>
<circle cx="356.75" cy="161.90" r="2.05" fill="#CF022B"/>
<circle cx="359.15" cy="161.90" r="2.05" fill="#CF022B"/>
<circle cx="337.35" cy="157.62" r="2.05" fill="#CF022B"/>
<circle cx="339.82" cy="157.62" r="2.05" fill="#CF022B"/>
<circle cx="342.28" cy="157.62" r="2.05" fill="#CF022B"/>
<circle cx="344.75" cy="157.62" r="2.05" fill="#CF022B"/>
<circle cx="347.22" cy="157.62" r="2.05" fill="#CF022B"/>
<circle cx="349.68" cy="157.62" r="2.05" fill="#CF022B"/>
<circle cx="352.15" cy="157.62" r="2.05" fill="#CF022B"/>
<circle cx="328.35" cy="153.34" r="2.05" fill="#CF022B"/>
<circle cx="330.87" cy="153.34" r="2.05" fill="#CF022B"/>
<circle cx="333.40" cy="153.34" r="2.05" fill="#CF022B"/>
<circle cx="335.92" cy="153.34" r="2.05" fill="#CF022B"/>
<circle cx="338.44" cy="153.34" r="2.05" fill="#CF022B"/>
<circle cx="340.97" cy="153.34" r="2.05" fill="#CF022B"/>
<circle cx="343.49" cy="153.34" r="2.05" fill="#CF022B"/>
<circle cx="346.01" cy="153.34" r="2.05" fill="#CF022B"/>
<circle cx="348.53" cy="153.34" r="2.05" fill="#CF022B"/>
<circle cx="351.06" cy="153.34" r="2.05" fill="#CF022B"/>
<circle cx="353.58" cy="153.34" r="2.05" fill="#CF022B"/>
<circle cx="356.10" cy="153.34" r="2.05" fill="#CF022B"/>
<circle cx="358.63" cy="153.34" r="2.05" fill="#CF022B"/>
<circle cx="361.15" cy="153.34" r="2.05" fill="#CF022B"/>
<circle cx="329.35" cy="149.07" r="2.05" fill="#CF022B"/>
<circle cx="331.80" cy="149.07" r="2.05" fill="#CF022B"/>
<circle cx="334.24" cy="149.07" r="2.05" fill="#CF022B"/>
<circle cx="336.69" cy="149.07" r="2.05" fill="#CF022B"/>
<circle cx="339.13" cy="149.07" r="2.05" fill="#CF022B"/>
<circle cx="341.58" cy="149.07" r="2.05" fill="#CF022B"/>
<circle cx="344.03" cy="149.07" r="2.05" fill="#CF022B"/>
<circle cx="346.47" cy="149.07" r="2.05" fill="#CF022B"/>
<circle cx="348.92" cy="149.07" r="2.05" fill="#CF022B"/>
<circle cx="351.37" cy="149.07" r="2.05" fill="#CF022B"/>
<circle cx="353.81" cy="149.07" r="2.05" fill="#CF022B"/>
<circle cx="356.26" cy="149.07" r="2.05" fill="#CF022B"/>
<circle cx="358.70" cy="149.07" r="2.05" fill="#CF022B"/>
<circle cx="361.15" cy="149.07" r="2.05" fill="#CF022B"/>
<circle cx="325.55" cy="144.79" r="2.05" fill="#CF022B"/>
<circle cx="327.98" cy="144.79" r="2.05" fill="#CF022B"/>
<circle cx="330.41" cy="144.79" r="2.05" fill="#CF022B"/>
<circle cx="332.84" cy="144.79" r="2.05" fill="#CF022B"/>
<circle cx="335.27" cy="144.79" r="2.05" fill="#CF022B"/>
<circle cx="337.71" cy="144.79" r="2.05" fill="#CF022B"/>
<circle cx="340.14" cy="144.79" r="2.05" fill="#CF022B"/>
<circle cx="342.57" cy="144.79" r="2.05" fill="#CF022B"/>
<circle cx="345.00" cy="144.79" r="2.05" fill="#CF022B"/>
<circle cx="347.43" cy="144.79" r="2.05" fill="#CF022B"/>
<circle cx="349.86" cy="144.79" r="2.05" fill="#CF022B"/>
<circle cx="352.29" cy="144.79" r="2.05" fill="#CF022B"/>
<circle cx="354.73" cy="144.79" r="2.05" fill="#CF022B"/>
<circle cx="357.16" cy="144.79" r="2.05" fill="#CF022B"/>
<circle cx="359.59" cy="144.79" r="2.05" fill="#CF022B"/>
<circle cx="362.02" cy="144.79" r="2.05" fill="#CF022B"/>
<circle cx="364.45" cy="144.79" r="2.05" fill="#CF022B"/>
<circle cx="337.35" cy="140.51" r="2.05" fill="#CF022B"/>
<circle cx="339.90" cy="140.51" r="2.05" fill="#CF022B"/>
<circle cx="342.45" cy="140.51" r="2.05" fill="#CF022B"/>
<circle cx="345.00" cy="140.51" r="2.05" fill="#CF022B"/>
<circle cx="347.55" cy="140.51" r="2.05" fill="#CF022B"/>
<circle cx="350.10" cy="140.51" r="2.05" fill="#CF022B"/>
<circle cx="352.65" cy="140.51" r="2.05" fill="#CF022B"/>
<circle cx="327.35" cy="136.23" r="2.05" fill="#CF022B"/>
<circle cx="329.85" cy="136.23" r="2.05" fill="#CF022B"/>
<circle cx="332.35" cy="136.23" r="2.05" fill="#CF022B"/>
<circle cx="334.85" cy="136.23" r="2.05" fill="#CF022B"/>
<circle cx="337.35" cy="136.23" r="2.05" fill="#CF022B"/>
<circle cx="339.85" cy="136.23" r="2.05" fill="#CF022B"/>
<circle cx="342.35" cy="136.23" r="2.05" fill="#CF022B"/>
<circle cx="344.85" cy="136.23" r="2.05" fill="#CF022B"/>
<circle cx="347.35" cy="136.23" r="2.05" fill="#CF022B"/>
<circle cx="349.85" cy="136.23" r="2.05" fill="#CF022B"/>
<circle cx="352.35" cy="136.23" r="2.05" fill="#CF022B"/>
<circle cx="354.85" cy="136.23" r="2.05" fill="#CF022B"/>
<circle cx="357.35" cy="136.23" r="2.05" fill="#CF022B"/>
<circle cx="359.85" cy="136.23" r="2.05" fill="#CF022B"/>
<circle cx="362.35" cy="136.23" r="2.05" fill="#CF022B"/>
<circle cx="337.85" cy="131.95" r="2.05" fill="#CF022B"/>
<circle cx="340.23" cy="131.95" r="2.05" fill="#CF022B"/>
<circle cx="342.62" cy="131.95" r="2.05" fill="#CF022B"/>
<circle cx="345.00" cy="131.95" r="2.05" fill="#CF022B"/>
<circle cx="347.38" cy="131.95" r="2.05" fill="#CF022B"/>
<circle cx="349.77" cy="131.95" r="2.05" fill="#CF022B"/>
<circle cx="352.15" cy="131.95" r="2.05" fill="#CF022B"/>
<circle cx="337.85" cy="127.68" r="2.05" fill="#CF022B"/>
<circle cx="340.23" cy="127.68" r="2.05" fill="#CF022B"/>
<circle cx="342.62" cy="127.68" r="2.05" fill="#CF022B"/>
<circle cx="345.00" cy="127.68" r="2.05" fill="#CF022B"/>
<circle cx="347.38" cy="127.68" r="2.05" fill="#CF022B"/>
<circle cx="349.77" cy="127.68" r="2.05" fill="#CF022B"/>
<circle cx="352.15" cy="127.68" r="2.05" fill="#CF022B"/>
<circle cx="339.35" cy="123.40" r="2.05" fill="#CF022B"/>
<circle cx="342.05" cy="123.40" r="2.05" fill="#CF022B"/>
<circle cx="344.75" cy="123.40" r="2.05" fill="#CF022B"/>
<circle cx="347.45" cy="123.40" r="2.05" fill="#CF022B"/>
<circle cx="350.15" cy="123.40" r="2.05" fill="#CF022B"/>
<circle cx="342.85" cy="119.12" r="2.05" fill="#CF022B"/>
<circle cx="344.75" cy="119.12" r="2.05" fill="#CF022B"/>
<circle cx="346.65" cy="119.12" r="2.05" fill="#CF022B"/>
<circle cx="341.85" cy="114.84" r="2.05" fill="#CF022B"/>
<circle cx="344.75" cy="114.84" r="2.05" fill="#CF022B"/>
<circle cx="347.65" cy="114.84" r="2.05" fill="#CF022B"/>
<circle cx="344.80" cy="106.29" r="2.05" fill="#CF022B"/>
<circle cx="343.55" cy="102.01" r="2.05" fill="#CF022B"/>
<circle cx="346.05" cy="102.01" r="2.05" fill="#CF022B"/>
<circle cx="344.80" cy="97.73" r="2.05" fill="#CF022B"/>
<circle cx="343.55" cy="93.45" r="2.05" fill="#CF022B"/>
<circle cx="346.05" cy="93.45" r="2.05" fill="#CF022B"/>
<circle cx="344.80" cy="89.17" r="2.05" fill="#CF022B"/>
<circle cx="344.80" cy="84.90" r="2.05" fill="#CF022B"/>
<circle cx="344.80" cy="37.84" r="2.05" fill="#CF022B"/>
<circle cx="403.05" cy="161.90" r="2.05" fill="#164C8C"/>
<circle cx="405.38" cy="161.90" r="2.05" fill="#164C8C"/>
<circle cx="407.72" cy="161.90" r="2.05" fill="#164C8C"/>
<circle cx="410.05" cy="161.90" r="2.05" fill="#164C8C"/>
<circle cx="412.38" cy="161.90" r="2.05" fill="#164C8C"/>
<circle cx="414.72" cy="161.90" r="2.05" fill="#164C8C"/>
<circle cx="417.05" cy="161.90" r="2.05" fill="#164C8C"/>
<circle cx="406.35" cy="157.62" r="2.05" fill="#164C8C"/>
<circle cx="408.85" cy="157.62" r="2.05" fill="#164C8C"/>
<circle cx="411.35" cy="157.62" r="2.05" fill="#164C8C"/>
<circle cx="413.85" cy="157.62" r="2.05" fill="#164C8C"/>
<circle cx="410.00" cy="153.34" r="2.05" fill="#164C8C"/>
<circle cx="395.35" cy="149.07" r="2.05" fill="#164C8C"/>
<circle cx="397.78" cy="149.07" r="2.05" fill="#164C8C"/>
<circle cx="400.20" cy="149.07" r="2.05" fill="#164C8C"/>
<circle cx="402.62" cy="149.07" r="2.05" fill="#164C8C"/>
<circle cx="405.05" cy="149.07" r="2.05" fill="#164C8C"/>
<circle cx="407.48" cy="149.07" r="2.05" fill="#164C8C"/>
<circle cx="409.90" cy="149.07" r="2.05" fill="#164C8C"/>
<circle cx="412.32" cy="149.07" r="2.05" fill="#164C8C"/>
<circle cx="414.75" cy="149.07" r="2.05" fill="#164C8C"/>
<circle cx="417.18" cy="149.07" r="2.05" fill="#164C8C"/>
<circle cx="419.60" cy="149.07" r="2.05" fill="#164C8C"/>
<circle cx="422.02" cy="149.07" r="2.05" fill="#164C8C"/>
<circle cx="424.45" cy="149.07" r="2.05" fill="#164C8C"/>
<circle cx="402.65" cy="144.79" r="2.05" fill="#164C8C"/>
<circle cx="405.10" cy="144.79" r="2.05" fill="#164C8C"/>
<circle cx="407.55" cy="144.79" r="2.05" fill="#164C8C"/>
<circle cx="410.00" cy="144.79" r="2.05" fill="#164C8C"/>
<circle cx="412.45" cy="144.79" r="2.05" fill="#164C8C"/>
<circle cx="414.90" cy="144.79" r="2.05" fill="#164C8C"/>
<circle cx="417.35" cy="144.79" r="2.05" fill="#164C8C"/>
<circle cx="405.35" cy="140.51" r="2.05" fill="#164C8C"/>
<circle cx="407.75" cy="140.51" r="2.05" fill="#164C8C"/>
<circle cx="410.15" cy="140.51" r="2.05" fill="#164C8C"/>
<circle cx="412.55" cy="140.51" r="2.05" fill="#164C8C"/>
<circle cx="414.95" cy="140.51" r="2.05" fill="#164C8C"/>
<circle cx="398.35" cy="136.23" r="2.05" fill="#164C8C"/>
<circle cx="400.89" cy="136.23" r="2.05" fill="#164C8C"/>
<circle cx="403.44" cy="136.23" r="2.05" fill="#164C8C"/>
<circle cx="405.98" cy="136.23" r="2.05" fill="#164C8C"/>
<circle cx="408.53" cy="136.23" r="2.05" fill="#164C8C"/>
<circle cx="411.07" cy="136.23" r="2.05" fill="#164C8C"/>
<circle cx="413.62" cy="136.23" r="2.05" fill="#164C8C"/>
<circle cx="416.16" cy="136.23" r="2.05" fill="#164C8C"/>
<circle cx="418.71" cy="136.23" r="2.05" fill="#164C8C"/>
<circle cx="421.25" cy="136.23" r="2.05" fill="#164C8C"/>
<circle cx="390.85" cy="131.95" r="2.05" fill="#164C8C"/>
<circle cx="393.40" cy="131.95" r="2.05" fill="#164C8C"/>
<circle cx="395.96" cy="131.95" r="2.05" fill="#164C8C"/>
<circle cx="398.51" cy="131.95" r="2.05" fill="#164C8C"/>
<circle cx="401.06" cy="131.95" r="2.05" fill="#164C8C"/>
<circle cx="403.62" cy="131.95" r="2.05" fill="#164C8C"/>
<circle cx="406.17" cy="131.95" r="2.05" fill="#164C8C"/>
<circle cx="408.72" cy="131.95" r="2.05" fill="#164C8C"/>
<circle cx="411.28" cy="131.95" r="2.05" fill="#164C8C"/>
<circle cx="413.83" cy="131.95" r="2.05" fill="#164C8C"/>
<circle cx="416.38" cy="131.95" r="2.05" fill="#164C8C"/>
<circle cx="418.94" cy="131.95" r="2.05" fill="#164C8C"/>
<circle cx="421.49" cy="131.95" r="2.05" fill="#164C8C"/>
<circle cx="424.04" cy="131.95" r="2.05" fill="#164C8C"/>
<circle cx="426.60" cy="131.95" r="2.05" fill="#164C8C"/>
<circle cx="429.15" cy="131.95" r="2.05" fill="#164C8C"/>
<circle cx="398.35" cy="127.68" r="2.05" fill="#164C8C"/>
<circle cx="400.91" cy="127.68" r="2.05" fill="#164C8C"/>
<circle cx="403.47" cy="127.68" r="2.05" fill="#164C8C"/>
<circle cx="406.03" cy="127.68" r="2.05" fill="#164C8C"/>
<circle cx="408.59" cy="127.68" r="2.05" fill="#164C8C"/>
<circle cx="411.16" cy="127.68" r="2.05" fill="#164C8C"/>
<circle cx="413.72" cy="127.68" r="2.05" fill="#164C8C"/>
<circle cx="416.28" cy="127.68" r="2.05" fill="#164C8C"/>
<circle cx="418.84" cy="127.68" r="2.05" fill="#164C8C"/>
<circle cx="421.40" cy="127.68" r="2.05" fill="#164C8C"/>
<circle cx="398.45" cy="123.40" r="2.05" fill="#164C8C"/>
<circle cx="401.01" cy="123.40" r="2.05" fill="#164C8C"/>
<circle cx="403.56" cy="123.40" r="2.05" fill="#164C8C"/>
<circle cx="406.12" cy="123.40" r="2.05" fill="#164C8C"/>
<circle cx="408.67" cy="123.40" r="2.05" fill="#164C8C"/>
<circle cx="411.23" cy="123.40" r="2.05" fill="#164C8C"/>
<circle cx="413.78" cy="123.40" r="2.05" fill="#164C8C"/>
<circle cx="416.34" cy="123.40" r="2.05" fill="#164C8C"/>
<circle cx="418.89" cy="123.40" r="2.05" fill="#164C8C"/>
<circle cx="421.45" cy="123.40" r="2.05" fill="#164C8C"/>
<circle cx="399.75" cy="119.12" r="2.05" fill="#164C8C"/>
<circle cx="402.31" cy="119.12" r="2.05" fill="#164C8C"/>
<circle cx="404.88" cy="119.12" r="2.05" fill="#164C8C"/>
<circle cx="407.44" cy="119.12" r="2.05" fill="#164C8C"/>
<circle cx="410.00" cy="119.12" r="2.05" fill="#164C8C"/>
<circle cx="412.56" cy="119.12" r="2.05" fill="#164C8C"/>
<circle cx="415.12" cy="119.12" r="2.05" fill="#164C8C"/>
<circle cx="417.69" cy="119.12" r="2.05" fill="#164C8C"/>
<circle cx="420.25" cy="119.12" r="2.05" fill="#164C8C"/>
<circle cx="402.25" cy="114.84" r="2.05" fill="#164C8C"/>
<circle cx="404.83" cy="114.84" r="2.05" fill="#164C8C"/>
<circle cx="407.42" cy="114.84" r="2.05" fill="#164C8C"/>
<circle cx="410.00" cy="114.84" r="2.05" fill="#164C8C"/>
<circle cx="412.58" cy="114.84" r="2.05" fill="#164C8C"/>
<circle cx="415.17" cy="114.84" r="2.05" fill="#164C8C"/>
<circle cx="417.75" cy="114.84" r="2.05" fill="#164C8C"/>
<circle cx="404.65" cy="110.56" r="2.05" fill="#164C8C"/>
<circle cx="407.20" cy="110.56" r="2.05" fill="#164C8C"/>
<circle cx="409.75" cy="110.56" r="2.05" fill="#164C8C"/>
<circle cx="412.30" cy="110.56" r="2.05" fill="#164C8C"/>
<circle cx="414.85" cy="110.56" r="2.05" fill="#164C8C"/>
<circle cx="404.65" cy="106.29" r="2.05" fill="#164C8C"/>
<circle cx="407.20" cy="106.29" r="2.05" fill="#164C8C"/>
<circle cx="409.75" cy="106.29" r="2.05" fill="#164C8C"/>
<circle cx="412.30" cy="106.29" r="2.05" fill="#164C8C"/>
<circle cx="414.85" cy="106.29" r="2.05" fill="#164C8C"/>
<circle cx="407.15" cy="102.01" r="2.05" fill="#164C8C"/>
<circle cx="409.75" cy="102.01" r="2.05" fill="#164C8C"/>
<circle cx="412.35" cy="102.01" r="2.05" fill="#164C8C"/>
<circle cx="407.15" cy="97.73" r="2.05" fill="#164C8C"/>
<circle cx="409.75" cy="97.73" r="2.05" fill="#164C8C"/>
<circle cx="412.35" cy="97.73" r="2.05" fill="#164C8C"/>
<circle cx="410.00" cy="93.45" r="2.05" fill="#164C8C"/>
<circle cx="407.50" cy="89.17" r="2.05" fill="#164C8C"/>
<circle cx="410.00" cy="89.17" r="2.05" fill="#164C8C"/>
<circle cx="412.50" cy="89.17" r="2.05" fill="#164C8C"/>
<circle cx="410.00" cy="84.90" r="2.05" fill="#164C8C"/>
<circle cx="410.00" cy="80.62" r="2.05" fill="#164C8C"/>
<circle cx="408.75" cy="76.34" r="2.05" fill="#164C8C"/>
<circle cx="411.25" cy="76.34" r="2.05" fill="#164C8C"/>
<circle cx="410.00" cy="72.06" r="2.05" fill="#164C8C"/>
<circle cx="408.75" cy="67.78" r="2.05" fill="#164C8C"/>
<circle cx="411.25" cy="67.78" r="2.05" fill="#164C8C"/>
<circle cx="410.00" cy="59.23" r="2.05" fill="#164C8C"/>
<circle cx="145.00" cy="61.90" r="1.85" fill="#CF022B"/>
<circle cx="144.40" cy="78.30" r="1.85" fill="#CF022B"/>
<circle cx="144.90" cy="80.20" r="1.85" fill="#CF022B"/>
<circle cx="144.40" cy="85.00" r="1.85" fill="#CF022B"/>
<circle cx="145.60" cy="86.70" r="1.85" fill="#CF022B"/>
<circle cx="144.80" cy="88.90" r="1.85" fill="#CF022B"/>
<circle cx="145.00" cy="92.20" r="1.85" fill="#CF022B"/>
<circle cx="145.00" cy="94.60" r="1.85" fill="#CF022B"/>
<circle cx="145.40" cy="97.20" r="1.85" fill="#CF022B"/>
<circle cx="144.60" cy="99.40" r="1.85" fill="#CF022B"/>
<circle cx="143.80" cy="101.20" r="1.85" fill="#CF022B"/>
<circle cx="145.70" cy="102.90" r="1.85" fill="#CF022B"/>
<circle cx="146.20" cy="104.90" r="1.85" fill="#CF022B"/>
<circle cx="144.30" cy="106.90" r="1.85" fill="#CF022B"/>
<circle cx="142.30" cy="108.80" r="1.85" fill="#CF022B"/>
<circle cx="145.70" cy="108.80" r="1.85" fill="#CF022B"/>
<circle cx="140.80" cy="110.80" r="1.85" fill="#CF022B"/>
<circle cx="148.20" cy="111.30" r="1.85" fill="#CF022B"/>
<circle cx="138.80" cy="113.30" r="1.85" fill="#CF022B"/>
<circle cx="144.80" cy="112.30" r="1.85" fill="#CF022B"/>
<circle cx="150.70" cy="113.30" r="1.85" fill="#CF022B"/>
<circle cx="138.30" cy="115.70" r="1.85" fill="#CF022B"/>
<circle cx="145.20" cy="115.20" r="1.85" fill="#CF022B"/>
<circle cx="142.80" cy="118.20" r="1.85" fill="#CF022B"/>
<circle cx="146.20" cy="118.70" r="1.85" fill="#CF022B"/>
<circle cx="144.80" cy="120.70" r="1.85" fill="#CF022B"/>
<circle cx="142.80" cy="123.10" r="1.85" fill="#CF022B"/>
<circle cx="146.20" cy="124.60" r="1.85" fill="#CF022B"/>
<circle cx="144.30" cy="126.60" r="1.85" fill="#CF022B"/>
<circle cx="145.52" cy="128.92" r="1.85" fill="#CF022B"/>
<circle cx="142.88" cy="129.41" r="1.85" fill="#CF022B"/>
<circle cx="148.04" cy="129.76" r="1.85" fill="#CF022B"/>
<circle cx="140.36" cy="130.23" r="1.85" fill="#CF022B"/>
<circle cx="150.56" cy="130.64" r="1.85" fill="#CF022B"/>
<circle cx="137.72" cy="130.86" r="1.85" fill="#CF022B"/>
<circle cx="153.20" cy="131.24" r="1.85" fill="#CF022B"/>
<circle cx="144.80" cy="131.91" r="1.85" fill="#CF022B"/>
<circle cx="142.16" cy="132.12" r="1.85" fill="#CF022B"/>
<circle cx="147.44" cy="132.51" r="1.85" fill="#CF022B"/>
<circle cx="139.76" cy="133.16" r="1.85" fill="#CF022B"/>
<circle cx="149.96" cy="133.39" r="1.85" fill="#CF022B"/>
<circle cx="137.24" cy="133.91" r="1.85" fill="#CF022B"/>
<circle cx="152.48" cy="134.10" r="1.85" fill="#CF022B"/>
<circle cx="143.72" cy="134.32" r="1.85" fill="#CF022B"/>
<circle cx="134.60" cy="134.44" r="1.85" fill="#CF022B"/>
<circle cx="155.12" cy="134.72" r="1.85" fill="#CF022B"/>
<circle cx="146.36" cy="134.96" r="1.85" fill="#CF022B"/>
<circle cx="132.08" cy="135.10" r="1.85" fill="#CF022B"/>
<circle cx="141.32" cy="135.34" r="1.85" fill="#CF022B"/>
<circle cx="157.64" cy="135.53" r="1.85" fill="#CF022B"/>
<circle cx="129.44" cy="135.63" r="1.85" fill="#CF022B"/>
<circle cx="148.88" cy="135.94" r="1.85" fill="#CF022B"/>
<circle cx="138.80" cy="136.11" r="1.85" fill="#CF022B"/>
<circle cx="160.16" cy="136.26" r="1.85" fill="#CF022B"/>
<circle cx="126.92" cy="136.40" r="1.85" fill="#CF022B"/>
<circle cx="151.40" cy="136.71" r="1.85" fill="#CF022B"/>
<circle cx="144.44" cy="136.83" r="1.85" fill="#CF022B"/>
<circle cx="136.28" cy="137.05" r="1.85" fill="#CF022B"/>
<circle cx="154.04" cy="137.26" r="1.85" fill="#CF022B"/>
<circle cx="133.64" cy="137.41" r="1.85" fill="#CF022B"/>
<circle cx="162.44" cy="137.63" r="1.85" fill="#CF022B"/>
<circle cx="146.96" cy="137.73" r="1.85" fill="#CF022B"/>
<circle cx="142.04" cy="137.97" r="1.85" fill="#CF022B"/>
<circle cx="156.56" cy="138.10" r="1.85" fill="#CF022B"/>
<circle cx="131.12" cy="138.36" r="1.85" fill="#CF022B"/>
<circle cx="149.48" cy="138.53" r="1.85" fill="#CF022B"/>
<circle cx="128.48" cy="138.60" r="1.85" fill="#CF022B"/>
<circle cx="139.52" cy="138.79" r="1.85" fill="#CF022B"/>
<circle cx="159.08" cy="138.98" r="1.85" fill="#CF022B"/>
<circle cx="152.00" cy="139.27" r="1.85" fill="#CF022B"/>
<circle cx="125.96" cy="139.38" r="1.85" fill="#CF022B"/>
<circle cx="144.80" cy="139.59" r="1.85" fill="#CF022B"/>
<circle cx="137.00" cy="139.72" r="1.85" fill="#CF022B"/>
<circle cx="154.52" cy="139.93" r="1.85" fill="#CF022B"/>
<circle cx="134.36" cy="140.10" r="1.85" fill="#CF022B"/>
<circle cx="161.36" cy="140.27" r="1.85" fill="#CF022B"/>
<circle cx="147.32" cy="140.49" r="1.85" fill="#CF022B"/>
<circle cx="142.40" cy="140.67" r="1.85" fill="#CF022B"/>
<circle cx="157.04" cy="140.90" r="1.85" fill="#CF022B"/>
<circle cx="131.84" cy="141.05" r="1.85" fill="#CF022B"/>
<circle cx="149.84" cy="141.27" r="1.85" fill="#CF022B"/>
<circle cx="139.88" cy="141.44" r="1.85" fill="#CF022B"/>
<circle cx="129.20" cy="141.64" r="1.85" fill="#CF022B"/>
<circle cx="163.52" cy="141.78" r="1.85" fill="#CF022B"/>
<circle cx="152.48" cy="141.89" r="1.85" fill="#CF022B"/>
<circle cx="145.16" cy="142.17" r="1.85" fill="#CF022B"/>
<circle cx="137.36" cy="142.37" r="1.85" fill="#CF022B"/>
<circle cx="155.00" cy="142.54" r="1.85" fill="#CF022B"/>
<circle cx="134.72" cy="142.67" r="1.85" fill="#CF022B"/>
<circle cx="158.84" cy="142.88" r="1.85" fill="#CF022B"/>
<circle cx="126.92" cy="142.98" r="1.85" fill="#CF022B"/>
<circle cx="142.76" cy="143.26" r="1.85" fill="#CF022B"/>
<circle cx="146.96" cy="144.07" r="1.85" fill="#CF022B"/>
<circle cx="140.72" cy="144.99" r="1.85" fill="#CF022B"/>
<circle cx="144.80" cy="145.98" r="1.85" fill="#CF022B"/>
<circle cx="146.84" cy="147.61" r="1.85" fill="#CF022B"/>
<circle cx="143.12" cy="148.04" r="1.85" fill="#CF022B"/>
<circle cx="140.48" cy="148.15" r="1.85" fill="#CF022B"/>
<circle cx="149.24" cy="148.77" r="1.85" fill="#CF022B"/>
<circle cx="137.96" cy="149.03" r="1.85" fill="#CF022B"/>
<circle cx="151.88" cy="149.34" r="1.85" fill="#CF022B"/>
<circle cx="145.16" cy="149.78" r="1.85" fill="#CF022B"/>
<circle cx="135.68" cy="150.32" r="1.85" fill="#CF022B"/>
<circle cx="142.64" cy="150.75" r="1.85" fill="#CF022B"/>
<circle cx="147.56" cy="150.88" r="1.85" fill="#CF022B"/>
<circle cx="140.12" cy="151.45" r="1.85" fill="#CF022B"/>
<circle cx="150.08" cy="151.66" r="1.85" fill="#CF022B"/>
<circle cx="137.60" cy="152.27" r="1.85" fill="#CF022B"/>
<circle cx="144.80" cy="152.54" r="1.85" fill="#CF022B"/>
<circle cx="152.36" cy="153.11" r="1.85" fill="#CF022B"/>
<circle cx="147.32" cy="153.54" r="1.85" fill="#CF022B"/>
<circle cx="142.40" cy="153.78" r="1.85" fill="#CF022B"/>
<circle cx="149.84" cy="154.33" r="1.85" fill="#CF022B"/>
<circle cx="139.88" cy="154.51" r="1.85" fill="#CF022B"/>
<circle cx="137.12" cy="154.83" r="1.85" fill="#CF022B"/>
<circle cx="144.80" cy="155.39" r="1.85" fill="#CF022B"/>
<circle cx="153.20" cy="155.61" r="1.85" fill="#CF022B"/>
<circle cx="134.72" cy="156.05" r="1.85" fill="#CF022B"/>
<circle cx="147.20" cy="156.52" r="1.85" fill="#CF022B"/>
<circle cx="142.64" cy="156.98" r="1.85" fill="#CF022B"/>
<circle cx="140.00" cy="157.23" r="1.85" fill="#CF022B"/>
<circle cx="149.60" cy="157.59" r="1.85" fill="#CF022B"/>
<circle cx="144.92" cy="158.24" r="1.85" fill="#CF022B"/>
<circle cx="137.60" cy="158.46" r="1.85" fill="#CF022B"/>
<circle cx="151.76" cy="159.06" r="1.85" fill="#CF022B"/>
<circle cx="147.32" cy="159.44" r="1.85" fill="#CF022B"/>
<circle cx="142.64" cy="159.67" r="1.85" fill="#CF022B"/>
<circle cx="140.00" cy="160.09" r="1.85" fill="#CF022B"/>
<circle cx="209.10" cy="50.60" r="1.8" fill="#1A4E8E" stroke="#0C2D5A" stroke-width="0.4"/>
<circle cx="205.40" cy="52.20" r="1.8" fill="#1A4E8E" stroke="#0C2D5A" stroke-width="0.4"/>
<circle cx="210.70" cy="55.30" r="1.8" fill="#1A4E8E" stroke="#0C2D5A" stroke-width="0.4"/>
<circle cx="203.30" cy="56.90" r="1.8" fill="#1A4E8E" stroke="#0C2D5A" stroke-width="0.4"/>
<circle cx="212.80" cy="58.50" r="1.8" fill="#1A4E8E" stroke="#0C2D5A" stroke-width="0.4"/>
<circle cx="201.20" cy="59.60" r="1.8" fill="#1A4E8E" stroke="#0C2D5A" stroke-width="0.4"/>
<circle cx="207.00" cy="59.00" r="1.8" fill="#1A4E8E" stroke="#0C2D5A" stroke-width="0.4"/>
<circle cx="204.30" cy="61.70" r="1.8" fill="#1A4E8E" stroke="#0C2D5A" stroke-width="0.4"/>
<circle cx="208.00" cy="62.20" r="1.8" fill="#1A4E8E" stroke="#0C2D5A" stroke-width="0.4"/>
<circle cx="207.50" cy="64.90" r="1.8" fill="#1A4E8E" stroke="#0C2D5A" stroke-width="0.4"/>
<circle cx="211.20" cy="69.10" r="1.8" fill="#1A4E8E" stroke="#0C2D5A" stroke-width="0.4"/>
<circle cx="205.40" cy="70.70" r="1.8" fill="#1A4E8E" stroke="#0C2D5A" stroke-width="0.4"/>
<circle cx="199.60" cy="73.90" r="1.8" fill="#1A4E8E" stroke="#0C2D5A" stroke-width="0.4"/>
<circle cx="213.90" cy="72.80" r="1.8" fill="#1A4E8E" stroke="#0C2D5A" stroke-width="0.4"/>
<circle cx="203.30" cy="74.90" r="1.8" fill="#1A4E8E" stroke="#0C2D5A" stroke-width="0.4"/>
<circle cx="207.50" cy="73.90" r="1.8" fill="#1A4E8E" stroke="#0C2D5A" stroke-width="0.4"/>
<circle cx="215.40" cy="76.00" r="1.8" fill="#1A4E8E" stroke="#0C2D5A" stroke-width="0.4"/>
<circle cx="200.10" cy="77.60" r="1.8" fill="#1A4E8E" stroke="#0C2D5A" stroke-width="0.4"/>
<circle cx="205.40" cy="77.60" r="1.8" fill="#1A4E8E" stroke="#0C2D5A" stroke-width="0.4"/>
<circle cx="211.70" cy="77.00" r="1.8" fill="#1A4E8E" stroke="#0C2D5A" stroke-width="0.4"/>
<circle cx="218.60" cy="90.90" r="1.8" fill="#1A4E8E" stroke="#0C2D5A" stroke-width="0.4"/>
<circle cx="196.80" cy="78.54" r="1.8" fill="#1A4E8E" stroke="#0C2D5A" stroke-width="0.4"/>
<circle cx="208.20" cy="79.60" r="1.8" fill="#1A4E8E" stroke="#0C2D5A" stroke-width="0.4"/>
<circle cx="205.20" cy="81.31" r="1.8" fill="#1A4E8E" stroke="#0C2D5A" stroke-width="0.4"/>
<circle cx="210.72" cy="81.97" r="1.8" fill="#1A4E8E" stroke="#0C2D5A" stroke-width="0.4"/>
<circle cx="202.44" cy="83.44" r="1.8" fill="#1A4E8E" stroke="#0C2D5A" stroke-width="0.4"/>
<circle cx="207.12" cy="84.16" r="1.8" fill="#1A4E8E" stroke="#0C2D5A" stroke-width="0.4"/>
<circle cx="212.64" cy="84.79" r="1.8" fill="#1A4E8E" stroke="#0C2D5A" stroke-width="0.4"/>
<circle cx="200.04" cy="85.92" r="1.8" fill="#1A4E8E" stroke="#0C2D5A" stroke-width="0.4"/>
<circle cx="204.48" cy="86.44" r="1.8" fill="#1A4E8E" stroke="#0C2D5A" stroke-width="0.4"/>
<circle cx="207.72" cy="87.54" r="1.8" fill="#1A4E8E" stroke="#0C2D5A" stroke-width="0.4"/>
<circle cx="211.08" cy="88.12" r="1.8" fill="#1A4E8E" stroke="#0C2D5A" stroke-width="0.4"/>
<circle cx="202.08" cy="88.94" r="1.8" fill="#1A4E8E" stroke="#0C2D5A" stroke-width="0.4"/>
<circle cx="213.96" cy="89.95" r="1.8" fill="#1A4E8E" stroke="#0C2D5A" stroke-width="0.4"/>
<circle cx="207.00" cy="91.01" r="1.8" fill="#1A4E8E" stroke="#0C2D5A" stroke-width="0.4"/>
<circle cx="199.68" cy="91.36" r="1.8" fill="#1A4E8E" stroke="#0C2D5A" stroke-width="0.4"/>
<circle cx="210.24" cy="92.22" r="1.8" fill="#1A4E8E" stroke="#0C2D5A" stroke-width="0.4"/>
<circle cx="204.24" cy="93.03" r="1.8" fill="#1A4E8E" stroke="#0C2D5A" stroke-width="0.4"/>
<circle cx="213.48" cy="93.51" r="1.8" fill="#1A4E8E" stroke="#0C2D5A" stroke-width="0.4"/>
<circle cx="197.28" cy="93.78" r="1.8" fill="#1A4E8E" stroke="#0C2D5A" stroke-width="0.4"/>
<circle cx="216.84" cy="94.11" r="1.8" fill="#1A4E8E" stroke="#0C2D5A" stroke-width="0.4"/>
<circle cx="207.24" cy="94.67" r="1.8" fill="#1A4E8E" stroke="#0C2D5A" stroke-width="0.4"/>
<circle cx="201.24" cy="94.77" r="1.8" fill="#1A4E8E" stroke="#0C2D5A" stroke-width="0.4"/>
<circle cx="194.28" cy="95.40" r="1.8" fill="#1A4E8E" stroke="#0C2D5A" stroke-width="0.4"/>
<circle cx="210.60" cy="95.61" r="1.8" fill="#1A4E8E" stroke="#0C2D5A" stroke-width="0.4"/>
<circle cx="219.72" cy="95.95" r="1.8" fill="#1A4E8E" stroke="#0C2D5A" stroke-width="0.4"/>
<circle cx="190.92" cy="96.32" r="1.8" fill="#1A4E8E" stroke="#0C2D5A" stroke-width="0.4"/>
<circle cx="204.48" cy="96.77" r="1.8" fill="#1A4E8E" stroke="#0C2D5A" stroke-width="0.4"/>
<circle cx="213.60" cy="97.31" r="1.8" fill="#1A4E8E" stroke="#0C2D5A" stroke-width="0.4"/>
<circle cx="199.08" cy="97.49" r="1.8" fill="#1A4E8E" stroke="#0C2D5A" stroke-width="0.4"/>
<circle cx="216.96" cy="97.95" r="1.8" fill="#1A4E8E" stroke="#0C2D5A" stroke-width="0.4"/>
<circle cx="207.60" cy="98.31" r="1.8" fill="#1A4E8E" stroke="#0C2D5A" stroke-width="0.4"/>
<circle cx="195.84" cy="98.59" r="1.8" fill="#1A4E8E" stroke="#0C2D5A" stroke-width="0.4"/>
<circle cx="221.28" cy="98.99" r="1.8" fill="#1A4E8E" stroke="#0C2D5A" stroke-width="0.4"/>
<circle cx="202.08" cy="99.20" r="1.8" fill="#1A4E8E" stroke="#0C2D5A" stroke-width="0.4"/>
<circle cx="210.84" cy="99.55" r="1.8" fill="#1A4E8E" stroke="#0C2D5A" stroke-width="0.4"/>
<circle cx="192.72" cy="99.94" r="1.8" fill="#1A4E8E" stroke="#0C2D5A" stroke-width="0.4"/>
<circle cx="224.40" cy="100.43" r="1.8" fill="#1A4E8E" stroke="#0C2D5A" stroke-width="0.4"/>
<circle cx="214.08" cy="100.70" r="1.8" fill="#1A4E8E" stroke="#0C2D5A" stroke-width="0.4"/>
<circle cx="205.44" cy="101.02" r="1.8" fill="#1A4E8E" stroke="#0C2D5A" stroke-width="0.4"/>
<circle cx="199.44" cy="101.45" r="1.8" fill="#1A4E8E" stroke="#0C2D5A" stroke-width="0.4"/>
<circle cx="217.32" cy="101.76" r="1.8" fill="#1A4E8E" stroke="#0C2D5A" stroke-width="0.4"/>
<circle cx="196.08" cy="102.07" r="1.8" fill="#1A4E8E" stroke="#0C2D5A" stroke-width="0.4"/>
<circle cx="208.56" cy="102.61" r="1.8" fill="#1A4E8E" stroke="#0C2D5A" stroke-width="0.4"/>
<circle cx="202.56" cy="102.99" r="1.8" fill="#1A4E8E" stroke="#0C2D5A" stroke-width="0.4"/>
<circle cx="220.44" cy="103.26" r="1.8" fill="#1A4E8E" stroke="#0C2D5A" stroke-width="0.4"/>
<circle cx="211.80" cy="103.78" r="1.8" fill="#1A4E8E" stroke="#0C2D5A" stroke-width="0.4"/>
<circle cx="193.32" cy="104.18" r="1.8" fill="#1A4E8E" stroke="#0C2D5A" stroke-width="0.4"/>
<circle cx="205.80" cy="104.72" r="1.8" fill="#1A4E8E" stroke="#0C2D5A" stroke-width="0.4"/>
<circle cx="199.80" cy="105.08" r="1.8" fill="#1A4E8E" stroke="#0C2D5A" stroke-width="0.4"/>
<circle cx="214.92" cy="105.35" r="1.8" fill="#1A4E8E" stroke="#0C2D5A" stroke-width="0.4"/>
<circle cx="209.04" cy="106.00" r="1.8" fill="#1A4E8E" stroke="#0C2D5A" stroke-width="0.4"/>
<circle cx="196.56" cy="106.13" r="1.8" fill="#1A4E8E" stroke="#0C2D5A" stroke-width="0.4"/>
<circle cx="202.92" cy="106.65" r="1.8" fill="#1A4E8E" stroke="#0C2D5A" stroke-width="0.4"/>
<circle cx="217.80" cy="107.18" r="1.8" fill="#1A4E8E" stroke="#0C2D5A" stroke-width="0.4"/>
<circle cx="212.16" cy="107.40" r="1.8" fill="#1A4E8E" stroke="#0C2D5A" stroke-width="0.4"/>
<circle cx="193.68" cy="107.94" r="1.8" fill="#1A4E8E" stroke="#0C2D5A" stroke-width="0.4"/>
<circle cx="206.40" cy="108.22" r="1.8" fill="#1A4E8E" stroke="#0C2D5A" stroke-width="0.4"/>
<circle cx="200.28" cy="108.86" r="1.8" fill="#1A4E8E" stroke="#0C2D5A" stroke-width="0.4"/>
<circle cx="215.04" cy="109.33" r="1.8" fill="#1A4E8E" stroke="#0C2D5A" stroke-width="0.4"/>
<circle cx="209.52" cy="109.69" r="1.8" fill="#1A4E8E" stroke="#0C2D5A" stroke-width="0.4"/>
<circle cx="203.64" cy="110.22" r="1.8" fill="#1A4E8E" stroke="#0C2D5A" stroke-width="0.4"/>
<circle cx="197.16" cy="110.46" r="1.8" fill="#1A4E8E" stroke="#0C2D5A" stroke-width="0.4"/>
<circle cx="218.04" cy="111.02" r="1.8" fill="#1A4E8E" stroke="#0C2D5A" stroke-width="0.4"/>
<circle cx="193.80" cy="111.42" r="1.8" fill="#1A4E8E" stroke="#0C2D5A" stroke-width="0.4"/>
<circle cx="206.76" cy="111.82" r="1.8" fill="#1A4E8E" stroke="#0C2D5A" stroke-width="0.4"/>
<circle cx="211.92" cy="112.17" r="1.8" fill="#1A4E8E" stroke="#0C2D5A" stroke-width="0.4"/>
<circle cx="201.24" cy="112.67" r="1.8" fill="#1A4E8E" stroke="#0C2D5A" stroke-width="0.4"/>
<circle cx="215.28" cy="113.09" r="1.8" fill="#1A4E8E" stroke="#0C2D5A" stroke-width="0.4"/>
<circle cx="220.56" cy="113.34" r="1.8" fill="#1A4E8E" stroke="#0C2D5A" stroke-width="0.4"/>
<circle cx="198.00" cy="113.78" r="1.8" fill="#1A4E8E" stroke="#0C2D5A" stroke-width="0.4"/>
<circle cx="191.52" cy="113.98" r="1.8" fill="#1A4E8E" stroke="#0C2D5A" stroke-width="0.4"/>
<circle cx="208.80" cy="114.57" r="1.8" fill="#1A4E8E" stroke="#0C2D5A" stroke-width="0.4"/>
<circle cx="205.32" cy="114.95" r="1.8" fill="#1A4E8E" stroke="#0C2D5A" stroke-width="0.4"/>
<circle cx="212.76" cy="115.47" r="1.8" fill="#1A4E8E" stroke="#0C2D5A" stroke-width="0.4"/>
<circle cx="217.32" cy="115.83" r="1.8" fill="#1A4E8E" stroke="#0C2D5A" stroke-width="0.4"/>
<circle cx="202.08" cy="116.06" r="1.8" fill="#1A4E8E" stroke="#0C2D5A" stroke-width="0.4"/>
<circle cx="195.84" cy="116.50" r="1.8" fill="#1A4E8E" stroke="#0C2D5A" stroke-width="0.4"/>
<circle cx="220.56" cy="117.00" r="1.8" fill="#1A4E8E" stroke="#0C2D5A" stroke-width="0.4"/>
<circle cx="190.32" cy="117.20" r="1.8" fill="#1A4E8E" stroke="#0C2D5A" stroke-width="0.4"/>
<circle cx="207.36" cy="117.75" r="1.8" fill="#1A4E8E" stroke="#0C2D5A" stroke-width="0.4"/>
<circle cx="199.32" cy="118.06" r="1.8" fill="#1A4E8E" stroke="#0C2D5A" stroke-width="0.4"/>
<circle cx="210.72" cy="118.45" r="1.8" fill="#1A4E8E" stroke="#0C2D5A" stroke-width="0.4"/>
<circle cx="204.12" cy="118.84" r="1.8" fill="#1A4E8E" stroke="#0C2D5A" stroke-width="0.4"/>
<circle cx="214.08" cy="119.48" r="1.8" fill="#1A4E8E" stroke="#0C2D5A" stroke-width="0.4"/>
<circle cx="217.56" cy="119.81" r="1.8" fill="#1A4E8E" stroke="#0C2D5A" stroke-width="0.4"/>
<circle cx="201.36" cy="120.94" r="1.8" fill="#1A4E8E" stroke="#0C2D5A" stroke-width="0.4"/>
<circle cx="207.00" cy="122.09" r="1.8" fill="#1A4E8E" stroke="#0C2D5A" stroke-width="0.4"/>
<circle cx="210.12" cy="123.52" r="1.8" fill="#1A4E8E" stroke="#0C2D5A" stroke-width="0.4"/>
<circle cx="204.12" cy="123.90" r="1.8" fill="#1A4E8E" stroke="#0C2D5A" stroke-width="0.4"/>
<circle cx="213.12" cy="125.24" r="1.8" fill="#1A4E8E" stroke="#0C2D5A" stroke-width="0.4"/>
<circle cx="207.00" cy="125.99" r="1.8" fill="#1A4E8E" stroke="#0C2D5A" stroke-width="0.4"/>
<circle cx="201.84" cy="126.45" r="1.8" fill="#1A4E8E" stroke="#0C2D5A" stroke-width="0.4"/>
<circle cx="198.36" cy="126.78" r="1.8" fill="#1A4E8E" stroke="#0C2D5A" stroke-width="0.4"/>
<circle cx="210.24" cy="127.15" r="1.8" fill="#1A4E8E" stroke="#0C2D5A" stroke-width="0.4"/>
<circle cx="215.88" cy="127.34" r="1.8" fill="#1A4E8E" stroke="#0C2D5A" stroke-width="0.4"/>
<circle cx="195.00" cy="127.74" r="1.8" fill="#1A4E8E" stroke="#0C2D5A" stroke-width="0.4"/>
<circle cx="219.24" cy="128.08" r="1.8" fill="#1A4E8E" stroke="#0C2D5A" stroke-width="0.4"/>
<circle cx="204.72" cy="128.62" r="1.8" fill="#1A4E8E" stroke="#0C2D5A" stroke-width="0.4"/>
<circle cx="191.76" cy="129.03" r="1.8" fill="#1A4E8E" stroke="#0C2D5A" stroke-width="0.4"/>
<circle cx="213.00" cy="129.17" r="1.8" fill="#1A4E8E" stroke="#0C2D5A" stroke-width="0.4"/>
<circle cx="200.40" cy="129.57" r="1.8" fill="#1A4E8E" stroke="#0C2D5A" stroke-width="0.4"/>
<circle cx="207.84" cy="129.99" r="1.8" fill="#1A4E8E" stroke="#0C2D5A" stroke-width="0.4"/>
<circle cx="221.76" cy="130.38" r="1.8" fill="#1A4E8E" stroke="#0C2D5A" stroke-width="0.4"/>
<circle cx="216.00" cy="130.85" r="1.8" fill="#1A4E8E" stroke="#0C2D5A" stroke-width="0.4"/>
<circle cx="197.40" cy="131.28" r="1.8" fill="#1A4E8E" stroke="#0C2D5A" stroke-width="0.4"/>
<circle cx="189.48" cy="131.57" r="1.8" fill="#1A4E8E" stroke="#0C2D5A" stroke-width="0.4"/>
<circle cx="203.76" cy="131.88" r="1.8" fill="#1A4E8E" stroke="#0C2D5A" stroke-width="0.4"/>
<circle cx="210.24" cy="132.40" r="1.8" fill="#1A4E8E" stroke="#0C2D5A" stroke-width="0.4"/>
<circle cx="218.88" cy="132.78" r="1.8" fill="#1A4E8E" stroke="#0C2D5A" stroke-width="0.4"/>
<circle cx="200.64" cy="133.24" r="1.8" fill="#1A4E8E" stroke="#0C2D5A" stroke-width="0.4"/>
<circle cx="207.00" cy="133.75" r="1.8" fill="#1A4E8E" stroke="#0C2D5A" stroke-width="0.4"/>
<circle cx="213.24" cy="134.06" r="1.8" fill="#1A4E8E" stroke="#0C2D5A" stroke-width="0.4"/>
<line x1="123.60000000000001" y1="134.9" x2="166.0" y2="134.9" stroke="#1a1a1a" stroke-width="1"/>
<line x1="136.3" y1="132.8" x2="153.3" y2="132.8" stroke="#1a1a1a" stroke-width="0.8"/>
<line x1="136.3" y1="137.0" x2="153.3" y2="137.0" stroke="#1a1a1a" stroke-width="0.8"/>
<line x1="144.8" y1="132.8" x2="144.8" y2="137.0" stroke="#1a1a1a" stroke-width="0.8"/>
<line x1="186.0" y1="102.8" x2="228.0" y2="102.8" stroke="#1a1a1a" stroke-width="1"/>
<line x1="197.3" y1="100.0" x2="216.7" y2="100.0" stroke="#1a1a1a" stroke-width="0.8"/>
<line x1="197.3" y1="105.6" x2="216.7" y2="105.6" stroke="#1a1a1a" stroke-width="0.8"/>
<line x1="207.0" y1="100.0" x2="207.0" y2="105.6" stroke="#1a1a1a" stroke-width="0.8"/>
<rect x="0.5" y="0.5" width="519" height="404" fill="none" stroke="#555" stroke-width="1"/>
</svg></body></html>
